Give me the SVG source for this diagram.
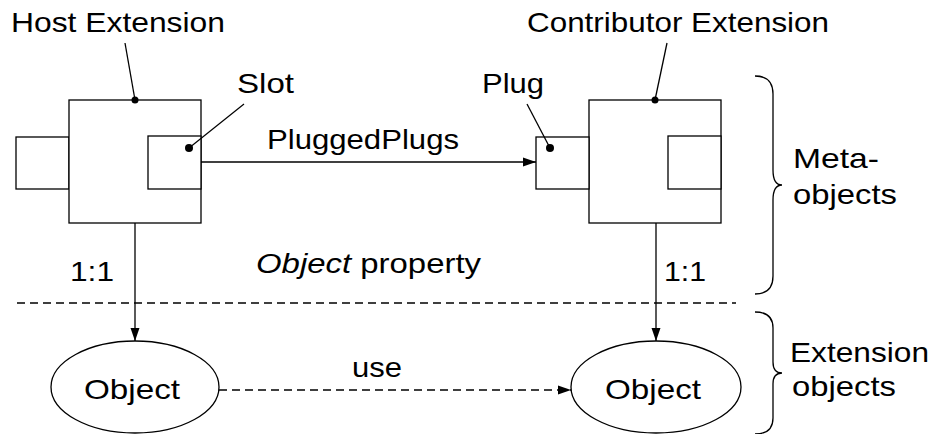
<svg xmlns="http://www.w3.org/2000/svg" width="934" height="434" viewBox="0 0 934 434">
<defs>
<marker id="arr" markerUnits="userSpaceOnUse" markerWidth="14" markerHeight="12" refX="13" refY="6" orient="auto">
<path d="M0,1.5 L13,6 L0,10.5 Z" fill="#000"/>
</marker>
<style>
.s{fill:#fff;stroke:#000;stroke-width:1.3}
.l{fill:none;stroke:#000;stroke-width:1.3}
.d{fill:none;stroke:#000;stroke-width:1.3;stroke-dasharray:8 5}
.t{font-family:"Liberation Sans",Arial,sans-serif;font-size:28px;fill:#000}
.dot{fill:#000}
</style>
</defs>
<rect width="934" height="434" fill="#fff"/>
<g id="host">
<rect class="s" x="16" y="137" width="53" height="52"/>
<rect class="s" x="69" y="100" width="132" height="123"/>
<rect class="s" x="148" y="136" width="53" height="53"/>
<text class="t" x="11" y="32" textLength="214" lengthAdjust="spacingAndGlyphs">Host Extension</text>
<text class="t" x="237" y="93" textLength="57" lengthAdjust="spacingAndGlyphs">Slot</text>
</g>
<g id="contributor">
<rect class="s" x="589" y="100" width="132" height="123"/>
<rect class="s" x="536" y="137" width="53" height="52"/>
<rect class="s" x="668" y="136" width="53" height="53"/>
<text class="t" x="527" y="32" textLength="302" lengthAdjust="spacingAndGlyphs">Contributor Extension</text>
<text class="t" x="482" y="93" textLength="62" lengthAdjust="spacingAndGlyphs">Plug</text>
</g>
<g id="obj1">
<ellipse class="s" cx="135" cy="387" rx="84" ry="46"/>
<text class="t" x="84" y="399" textLength="96" lengthAdjust="spacingAndGlyphs">Object</text>
</g>
<g id="obj2">
<ellipse class="s" cx="656" cy="387" rx="85" ry="46"/>
<text class="t" x="605" y="399" textLength="96" lengthAdjust="spacingAndGlyphs">Object</text>
</g>
<g id="braces">
<path class="l" d="M755,76 Q773,76 773,94 L773,170 Q773,185 782,185 Q773,185 773,200 L773,276 Q773,294 755,294"/>
<path class="l" d="M755,312 Q773,312 773,328 L773,362 Q773,373 782,373 Q773,373 773,384 L773,418 Q773,434 755,434"/>
<text class="t" x="793" y="168" textLength="86" lengthAdjust="spacingAndGlyphs">Meta-</text>
<text class="t" x="793" y="204" textLength="104" lengthAdjust="spacingAndGlyphs">objects</text>
<text class="t" x="790" y="362" textLength="139" lengthAdjust="spacingAndGlyphs">Extension</text>
<text class="t" x="792" y="396" textLength="104" lengthAdjust="spacingAndGlyphs">objects</text>
</g>
<g id="connectors">
<line class="l" x1="125" y1="43" x2="135" y2="100"/>
<circle class="dot" cx="135" cy="100" r="3.5"/>
<line class="l" x1="244" y1="104" x2="189" y2="148"/>
<circle class="dot" cx="189" cy="148" r="4"/>
<line class="l" x1="527" y1="104" x2="550" y2="148"/>
<circle class="dot" cx="550" cy="148" r="4"/>
<line class="l" x1="667" y1="43" x2="655" y2="100"/>
<circle class="dot" cx="655" cy="100" r="3.5"/>
<line class="l" x1="201" y1="162" x2="536" y2="162" marker-end="url(#arr)"/>
<line class="l" x1="135" y1="223" x2="135" y2="341" marker-end="url(#arr)"/>
<line class="l" x1="656" y1="223" x2="656" y2="341" marker-end="url(#arr)"/>
<line class="d" x1="219" y1="390" x2="571" y2="390" marker-end="url(#arr)"/>
<line class="d" x1="17" y1="303" x2="736" y2="303"/>
<text class="t" x="267" y="149" textLength="192" lengthAdjust="spacingAndGlyphs">PluggedPlugs</text>
<text class="t" x="70" y="281" textLength="44" lengthAdjust="spacingAndGlyphs">1:1</text>
<text class="t" x="664" y="281" textLength="42" lengthAdjust="spacingAndGlyphs">1:1</text>
<text class="t" x="352" y="377" textLength="50" lengthAdjust="spacingAndGlyphs">use</text>
<text class="t" x="256" y="273" textLength="225" lengthAdjust="spacingAndGlyphs"><tspan font-style="italic">Object</tspan> property</text>
</g>
</svg>
